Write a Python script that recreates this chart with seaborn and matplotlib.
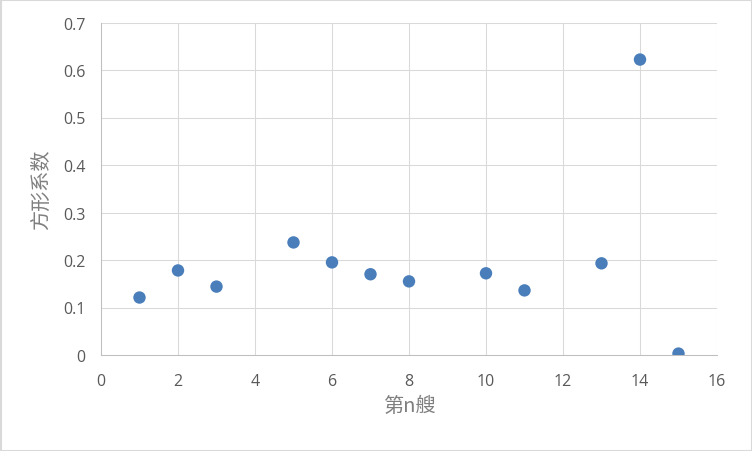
import matplotlib
matplotlib.use("Agg")
import matplotlib.pyplot as plt
import seaborn as sns
import pandas as pd
from matplotlib.patches import Rectangle

ship_n = [1, 2, 3, 5, 6, 7, 8, 10, 11, 13, 14, 15]
coef = [0.121, 0.178, 0.144, 0.237, 0.195, 0.170, 0.155, 0.172, 0.136, 0.193, 0.622, 0.003]
x_ticks = [0, 2, 4, 6, 8, 10, 12, 14, 16]
y_ticks = [0, 0.1, 0.2, 0.3, 0.4, 0.5, 0.6, 0.7]
y_tick_labels = ["0", "0.1", "0.2", "0.3", "0.4", "0.5", "0.6", "0.7"]

sns.set_style("white")
plt.rcParams['font.family'] = ['Noto Sans CJK SC', 'DejaVu Sans']

df = pd.DataFrame({"x": ship_n, "y": coef})

fig = plt.figure(figsize=(7.52, 4.52), dpi=100)
ax = fig.add_axes([101/752, 1-356/452, (717-101)/752, (356-23.5)/452])

sns.scatterplot(data=df, x="x", y="y", ax=ax, color="#4a7ebb", s=80,
                edgecolor="none", zorder=3)

ax.set_xlim(0, 16)
ax.set_ylim(0, 0.7)
ax.set_xticks(x_ticks)
ax.set_yticks(y_ticks)
ax.set_yticklabels(y_tick_labels)
ax.grid(True, color="#d9d9d9", linewidth=0.75)
ax.set_axisbelow(True)
for s in ["top", "right"]:
    ax.spines[s].set_visible(False)
for s in ["left", "bottom"]:
    ax.spines[s].set_color("#bfbfbf")
    ax.spines[s].set_linewidth(0.75)
ax.tick_params(axis="both", length=0, labelsize=11.5, labelcolor="#595959")
ax.tick_params(axis="y", pad=11)
ax.tick_params(axis="x", pad=13)
for lab in ax.get_xticklabels() + ax.get_yticklabels():
    lab.set_family(['Open Sans', 'DejaVu Sans'])

ax.set_xlabel("第n艘", fontsize=14.5, color="#7f7f7f", labelpad=4)
ax.set_ylabel("方形系数", fontsize=14.5, color="#7f7f7f", labelpad=8)

fig.patches.append(Rectangle((0.5/752, 0.5/452), 1-1/752, 1-1/452, transform=fig.transFigure,
                             fill=False, edgecolor="#d9d9d9", linewidth=1.5))

fig.savefig("out.png", dpi=100)
